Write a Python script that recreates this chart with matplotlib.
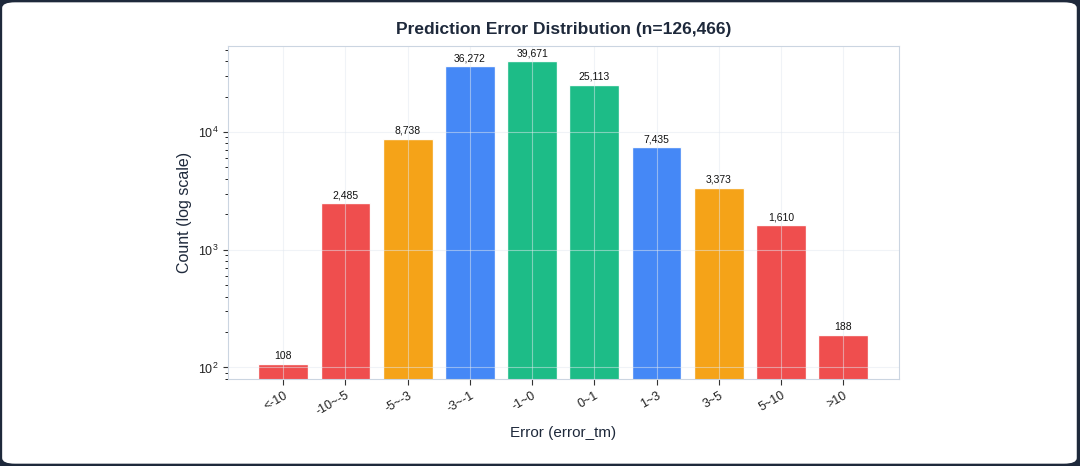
import matplotlib.pyplot as plt
from matplotlib.patches import FancyBboxPatch

plt.rcParams['font.family'] = ['Liberation Sans', 'DejaVu Sans']

# bins and counts
bins = ['<-10', '-10~-5', '-5~-3', '-3~-1', '-1~0', '0~1', '1~3', '3~5', '5~10', '>10']
counts = [108, 2485, 8738, 36272, 39671, 25113, 7435, 3373, 1610, 188]
colors = ['#ef4444', '#ef4444', '#f59e0b', '#3b82f6', '#10b981',
          '#10b981', '#3b82f6', '#f59e0b', '#ef4444', '#ef4444']
n_total = 126466  # as printed in the title

fig = plt.figure(figsize=(10.8, 4.66), dpi=100, facecolor='#1e293b')
# white rounded card
card = FancyBboxPatch((0.002, 0.005), 0.995, 0.99,
                      boxstyle='round,pad=0,rounding_size=0.012',
                      transform=fig.transFigure, facecolor='white',
                      edgecolor='none', zorder=-10)
fig.patches.append(card)

ax = fig.add_axes([0.211, 0.187, 0.621, 0.714])
ax.set_facecolor('white')

x = range(len(bins))
bars = ax.bar(x, counts, width=0.8, color=colors, alpha=0.95,
              edgecolor='white', linewidth=1)
ax.set_yscale('log')
ax.set_ylim(80, max(counts) * 1.35)

for b, c in zip(bars, counts):
    ax.text(b.get_x() + b.get_width() / 2, c * 1.06, f'{c:,}',
            ha='center', va='bottom', fontsize=7.5, color='#111111')

ax.set_xticks(list(x))
ax.set_xticklabels(bins, rotation=30, ha='right', rotation_mode='anchor')
ax.tick_params(axis='x', labelsize=9, colors='#333333', length=4)
ax.tick_params(axis='y', labelsize=9, colors='#333333')
ax.tick_params(labelcolor='#222222')

ax.grid(True, which='major', color='#e2e8f0', linewidth=0.8, alpha=0.5)
for s in ax.spines.values():
    s.set_color('#cbd5e1')

ax.set_xlabel('Error (error_tm)', fontsize=11, color='#1e293b', labelpad=6)
ax.set_ylabel('Count (log scale)', fontsize=11.5, color='#1e293b')
ax.set_title(f'Prediction Error Distribution (n={n_total:,})', fontsize=12.5,
             fontweight='bold', color='#1e293b', pad=8.5)

fig.savefig('out.png', dpi=100, facecolor=fig.get_facecolor())
